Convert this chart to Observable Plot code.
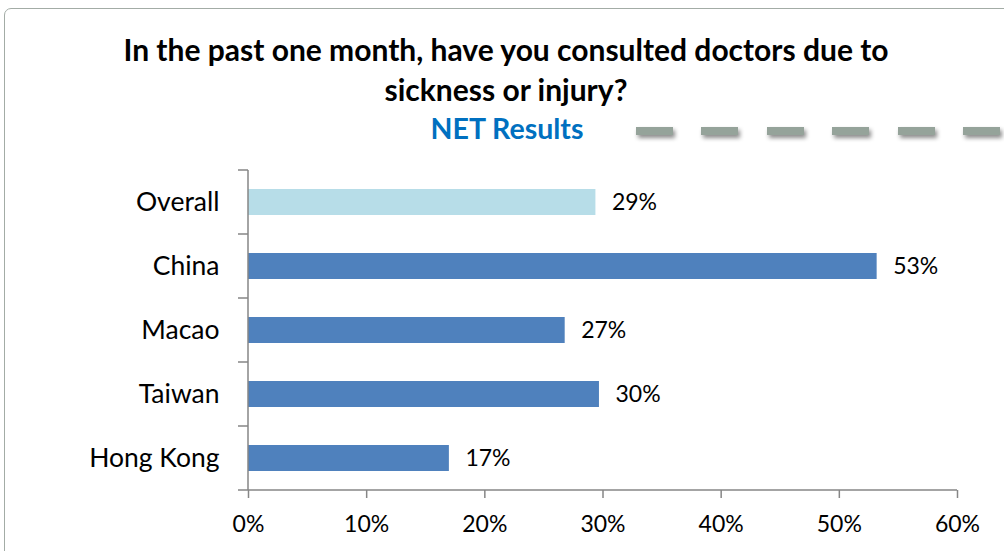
<!DOCTYPE html>
<html><head><meta charset="utf-8">
<script src="https://cdn.jsdelivr.net/npm/d3@7"></script>
<script src="https://cdn.jsdelivr.net/npm/@observablehq/plot@0.6"></script>
<style>
body{margin:0;background:#fff;overflow:hidden;}
#wrap{position:relative;width:1004px;height:551px;overflow:hidden;font-family:Lato,sans-serif;}
#frame{position:absolute;left:4px;top:8px;width:1100px;height:600px;border:1.5px solid #a3aca6;border-radius:7px;box-sizing:border-box;}
#title{position:absolute;left:0;top:29px;width:1012px;text-align:center;font-weight:bold;font-size:30px;line-height:40px;color:#000;}
#sub{position:absolute;left:0;top:111px;width:1014px;text-align:center;font-weight:bold;font-size:28.5px;line-height:34px;color:#0070c0;}
#dash{position:absolute;left:636px;top:127px;width:420px;height:8px;background:repeating-linear-gradient(to right,#95a39a 0 37px,transparent 37px 65.5px);filter:drop-shadow(2px 3px 2px rgba(0,0,0,0.45));}
#chart{position:absolute;left:0;top:150px;}
</style></head><body>
<div id="wrap">
  <div id="frame"></div>
  <div id="title">In the past one month, have you consulted doctors due to<br>sickness or injury?</div>
  <div id="sub">NET Results</div>
  <div id="dash"></div>
  <div id="chart"></div>
</div>
<script>
const categories = ["Overall", "China", "Macao", "Taiwan", "Hong Kong"];
const values = [29.4, 53.2, 26.8, 29.7, 17.0];
const groups = ["overall", "region", "region", "region", "region"];
const xTicks = [0, 10, 20, 30, 40, 50, 60];

const data = categories.map((c, i) => ({category: c, value: values[i], group: groups[i]}));

function axisLines(index, scales) {
  const {x, y} = scales;
  const bw = y.bandwidth ? y.bandwidth() : 0;
  const centers = categories.map(c => y(c) + bw / 2);
  const step = centers[1] - centers[0];
  const bounds = [centers[0] - step / 2, ...centers.map(c => c + step / 2)];
  const x0 = x(xTicks[0]), x1 = x(xTicks[xTicks.length - 1]);
  const g = d3.create("svg:g").attr("stroke", "#868686").attr("stroke-width", 1.5).attr("fill", "none");
  g.append("line").attr("x1", x0).attr("x2", x0).attr("y1", bounds[0]).attr("y2", bounds[bounds.length - 1]);
  g.append("line").attr("x1", x0).attr("x2", x1).attr("y1", bounds[bounds.length - 1]).attr("y2", bounds[bounds.length - 1]);
  for (const b of bounds) g.append("line").attr("x1", x0 - 10).attr("x2", x0).attr("y1", b).attr("y2", b);
  return g.node();
}

const chart = Plot.plot({
  width: 1004,
  height: 401,
  marginLeft: 248,
  marginRight: 47,
  marginTop: 20,
  marginBottom: 61,
  style: {fontFamily: "Lato, sans-serif", color: "#000", background: "transparent"},
  x: {domain: [0, 60]},
  y: {domain: categories, paddingInner: 0.6, paddingOuter: 0.3},
  color: {domain: ["overall", "region"], range: ["#b7dde8", "#4f81bd"]},
  marks: [
    Plot.barX(data, {x: "value", y: "category", fill: "group"}),
    Plot.text(data, {x: "value", y: "category", text: d => Math.round(d.value) + "%", textAnchor: "start", dx: 16, fontSize: 23, fill: "#000"}),
    Plot.axisX({ticks: xTicks, tickFormat: d => d + "%", tickSize: 8, tickPadding: 17, stroke: "#868686", strokeWidth: 1.5, fill: "#000", fontSize: 23, label: null}),
    Plot.axisY({tickSize: 0, tickPadding: 29, fontSize: 26.5, fill: "#000", label: null}),
    axisLines
  ]
});
document.getElementById("chart").appendChild(chart);
</script>
</body></html>
